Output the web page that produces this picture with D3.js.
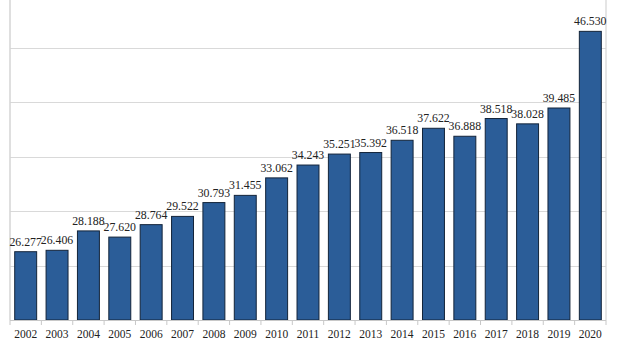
<!DOCTYPE html>
<html>
<head>
<meta charset="utf-8">
<script src="https://cdn.jsdelivr.net/npm/d3@7/dist/d3.min.js"></script>
<style>
html,body{margin:0;padding:0;background:#fff;}
svg{display:block;}
</style>
</head>
<body>
<svg id="chart" width="620" height="350"></svg>
<script>
const years = ["2002","2003","2004","2005","2006","2007","2008","2009","2010","2011","2012","2013","2014","2015","2016","2017","2018","2019","2020"];
const values = [26.277,26.406,28.188,27.620,28.764,29.522,30.793,31.455,33.062,34.243,35.251,35.392,36.518,37.622,36.888,38.518,38.028,39.485,46.530];
const gridTicks = [25,30,35,40,45,50];

const svg = d3.select("#chart");
const left = 10, right = 606, baseY = 320;
const x = d3.scaleBand().domain(years).range([left, right]).paddingInner(0.3).paddingOuter(0.15);
const y = d3.scaleLinear().domain([20, 50]).range([baseY, baseY - 30*10.88]);

// grid
svg.append("g").selectAll("line").data(gridTicks).join("line")
  .attr("x1", left).attr("x2", right)
  .attr("y1", d => Math.round(y(d)) + 0.5).attr("y2", d => Math.round(y(d)) + 0.5)
  .attr("stroke", "#d9d9d9").attr("stroke-width", 1.2);

// left & right frame lines
svg.append("line").attr("x1", left).attr("x2", left).attr("y1", 0).attr("y2", baseY)
  .attr("stroke", "#d4d4d4").attr("stroke-width", 1.5);
svg.append("line").attr("x1", right).attr("x2", right).attr("y1", 0).attr("y2", baseY)
  .attr("stroke", "#d4d4d4").attr("stroke-width", 1.2);

// bars
svg.append("g").selectAll("rect").data(values).join("rect")
  .attr("x", (d,i) => x(years[i]))
  .attr("width", x.bandwidth())
  .attr("y", d => y(d))
  .attr("height", d => baseY - y(d))
  .attr("fill", "#2b5d98")
  .attr("stroke", "#13243a").attr("stroke-width", 1);

// baseline
svg.append("line").attr("x1", left).attr("x2", right).attr("y1", baseY+0.5).attr("y2", baseY+0.5)
  .attr("stroke", "#c8c8c8").attr("stroke-width", 1.2);

// ticks at band boundaries
const step = x.step();
const bounds = d3.range(years.length + 1).map(i => left + i * (right - left) / years.length);
svg.append("g").selectAll("line").data(bounds).join("line")
  .attr("x1", d => d).attr("x2", d => d)
  .attr("y1", baseY).attr("y2", baseY + 5)
  .attr("stroke", "#c8c8c8").attr("stroke-width", 1);

// year labels
svg.append("g").selectAll("text").data(years).join("text")
  .attr("x", d => x(d) + x.bandwidth()/2)
  .attr("y", 338)
  .attr("text-anchor", "middle")
  .attr("font-family", "Liberation Serif, Times New Roman, serif")
  .attr("font-size", 11.5)
  .attr("fill", "#222")
  .text(d => d);

// value labels
svg.append("g").selectAll("text").data(values).join("text")
  .attr("x", (d,i) => x(years[i]) + x.bandwidth()/2)
  .attr("y", d => y(d) - 6)
  .attr("text-anchor", "middle")
  .attr("font-family", "Liberation Serif, Times New Roman, serif")
  .attr("font-size", 11.8)
  .attr("fill", "#222")
  .text(d => d3.format(".3f")(d));
</script>
</body>
</html>
